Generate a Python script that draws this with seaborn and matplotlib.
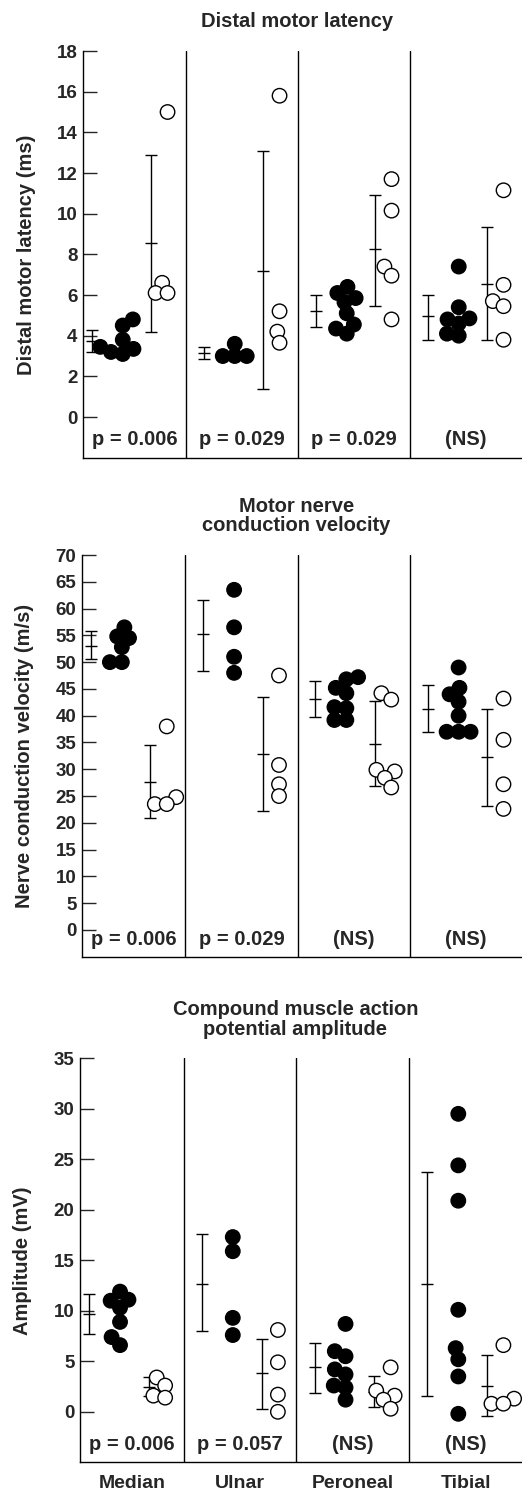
import numpy as np
import pandas as pd
import matplotlib
matplotlib.use("Agg")
import matplotlib.pyplot as plt
import seaborn as sns
import warnings

warnings.filterwarnings("ignore")

nerves = ["Median", "Ulnar", "Peroneal", "Tibial"]

# Distal motor latency (ms)
dml_solid = [[4.8, 4.5, 3.8, 3.45, 3.35, 3.2, 3.1],
             [3.6, 3.0, 3.0, 3.0],
             [6.4, 6.1, 5.85, 5.65, 5.1, 4.55, 4.35, 4.1],
             [7.4, 5.4, 4.85, 4.8, 4.6, 4.1, 4.0]]
dml_hollow = [[15.0, 6.6, 6.1, 6.1],
              [15.8, 5.2, 4.2, 3.65],
              [11.7, 10.15, 7.4, 6.95, 4.8],
              [11.15, 6.5, 5.7, 5.45, 3.8]]
# (mean, low, high) of the error bars
dml_solid_bar = [(3.75, 3.2, 4.3), (3.15, 2.85, 3.45), (5.2, 4.45, 6.0), (4.95, 3.8, 6.0)]
dml_hollow_bar = [(8.55, 4.2, 12.9), (7.2, 1.4, 13.1), (8.25, 5.45, 10.9), (6.55, 3.8, 9.35)]
dml_p = ["p = 0.006", "p = 0.029", "p = 0.029", "(NS)"]

# Motor nerve conduction velocity (m/s)
ncv_solid = [[56.5, 54.8, 54.5, 52.8, 50.0, 50.0],
             [63.5, 56.5, 51.0, 48.0],
             [47.2, 46.8, 45.2, 44.2, 41.6, 41.4, 39.2, 39.2],
             [49.0, 45.2, 44.0, 42.6, 40.0, 37.0, 37.0, 37.0]]
ncv_hollow = [[38.0, 24.8, 23.5, 23.5],
              [47.5, 30.8, 27.2, 25.0],
              [44.2, 43.0, 29.9, 29.6, 28.4, 26.6],
              [43.2, 35.5, 27.2, 22.6]]
ncv_solid_bar = [(53.1, 50.5, 55.8), (55.3, 48.4, 61.6), (43.2, 39.7, 46.4), (41.2, 37.0, 45.7)]
ncv_hollow_bar = [(27.7, 20.9, 34.5), (32.8, 22.3, 43.4), (34.7, 26.9, 42.8), (32.2, 23.1, 41.2)]
ncv_p = ["p = 0.006", "p = 0.029", "(NS)", "(NS)"]

# Compound muscle action potential amplitude (mV)
amp_solid = [[11.9, 11.1, 11.0, 10.3, 8.9, 7.4, 6.6],
             [17.3, 15.9, 9.3, 7.6],
             [8.7, 6.0, 5.5, 4.2, 3.7, 2.6, 2.4, 1.2],
             [29.5, 24.4, 20.9, 10.1, 6.3, 5.2, 3.5, -0.2]]
amp_hollow = [[3.4, 2.6, 1.6, 1.4],
              [8.1, 4.9, 1.7, 0.0],
              [4.4, 2.1, 1.6, 1.2, 0.3],
              [6.6, 1.3, 0.8, 0.8]]
amp_solid_bar = [(9.65, 7.7, 11.65), (12.7, 8.0, 17.6), (4.4, 1.9, 6.8), (12.7, 1.6, 23.7)]
amp_hollow_bar = [(2.5, 1.6, 3.4), (3.85, 0.25, 7.2), (2.0, 0.5, 3.55), (2.55, -0.4, 5.6)]
amp_p = ["p = 0.006", "p = 0.057", "(NS)", "(NS)"]

sns.set_style("ticks")
plt.rcParams["font.family"] = ["Liberation Sans", "DejaVu Sans"]
plt.rcParams["font.weight"] = "bold"

X0, X1 = 0.08, 4.0
# swarm pair centre (dodged by seaborn to +-0.2), and the two error bar columns
PAIR_POS, SOLID_BAR, HOLLOW_BAR = 0.635, 0.16, 0.69
LAYOUT_SIZE, MARKER_SIZE = 7.2, 10.4   # swarm packed tighter than the dots, so they overlap


def long_df(solid, hollow):
    rows = []
    for name, groups in (("solid", solid), ("hollow", hollow)):
        for i, vals in enumerate(groups):
            rows += [(i + PAIR_POS, v, name) for v in vals]
    return pd.DataFrame(rows, columns=["pos", "value", "group"])


def draw_bars(ax, bars, offset):
    bars = np.array(bars)
    mean, lo, hi = bars[:, 0], bars[:, 1], bars[:, 2]
    ax.errorbar(np.arange(len(bars)) + offset, mean, yerr=[mean - lo, hi - mean],
                fmt="_", color="black", ms=9, mew=1, elinewidth=1,
                capsize=4.5, capthick=1, zorder=3)


def draw_panel(ax, solid, hollow, solid_bar, hollow_bar, pvals, ylim, yticks,
               title, ylabel):
    ax.set_xlim(X0, X1)
    ax.set_ylim(*ylim)
    before = list(ax.collections)
    sns.swarmplot(data=long_df(solid, hollow), x="pos", y="value", hue="group",
                  hue_order=["solid", "hollow"],
                  palette={"solid": "black", "hollow": "white"},
                  dodge=True, native_scale=True, orient="x", size=LAYOUT_SIZE,
                  edgecolor="black", linewidth=1, legend=False, ax=ax, zorder=4)
    # keep the swarm layout seaborn just computed, then draw the dots bigger
    for coll in ax.collections:
        if coll not in before:
            if "draw" in coll.__dict__:
                del coll.draw
            coll.set_sizes([MARKER_SIZE ** 2])
    draw_bars(ax, solid_bar, SOLID_BAR)
    draw_bars(ax, hollow_bar, HOLLOW_BAR)
    for s in range(1, len(nerves)):
        ax.axvline(s, color="black", lw=1)
    centers = [(max(i, X0) + i + 1) / 2 for i in range(len(nerves))]
    for c, p in zip(centers, pvals):
        ax.text(c, 0.045, p, transform=ax.get_xaxis_transform(),
                ha="center", va="center", fontsize=14.5, fontweight="bold")
    ax.set_xlim(X0, X1)
    ax.set_ylim(*ylim)
    ax.set_yticks(yticks)
    ax.set_xticks(centers)
    ax.set_xticklabels(nerves)
    ax.tick_params(axis="y", direction="in", length=10, width=1, labelsize=13.5, pad=4)
    ax.tick_params(axis="x", length=0, labelsize=14, pad=9)
    ax.set_xlabel("")
    ax.set_ylabel(ylabel, fontsize=14.5, fontweight="bold")
    ax.yaxis.set_label_coords(-0.108, 0.5)
    ax.set_title(title, fontsize=14.5, fontweight="bold", x=0.487, pad=17,
                 linespacing=1.05)
    for side in ["top", "right"]:
        ax.spines[side].set_visible(False)
    for side in ["left", "bottom"]:
        ax.spines[side].set_linewidth(1)
        ax.spines[side].set_color("black")


W, H = 522, 1492
fig = plt.figure(figsize=(W / 100, H / 100), dpi=100)
ax1 = fig.add_axes([83 / W, 1 - 457.7 / H, (W - 83) / W, 406.7 / H])
ax2 = fig.add_axes([82 / W, 1 - 957.3 / H, (W - 82) / W, 402.3 / H])
ax3 = fig.add_axes([80 / W, 1 - 1462.3 / H, (W - 80) / W, 404.0 / H])

draw_panel(ax1, dml_solid, dml_hollow, dml_solid_bar, dml_hollow_bar, dml_p,
           (-2, 18), np.arange(0, 19, 2), "Distal motor latency",
           "Distal motor latency (ms)")
draw_panel(ax2, ncv_solid, ncv_hollow, ncv_solid_bar, ncv_hollow_bar, ncv_p,
           (-5.1, 70), np.arange(0, 71, 5), "Motor nerve\nconduction velocity",
           "Nerve conduction velocity (m/s)")
draw_panel(ax3, amp_solid, amp_hollow, amp_solid_bar, amp_hollow_bar, amp_p,
           (-5, 35), np.arange(0, 36, 5), "Compound muscle action\npotential amplitude",
           "Amplitude (mV)")
for ax in (ax1, ax2):
    ax.set_xticklabels([])

fig.savefig("out.png", dpi=100)
